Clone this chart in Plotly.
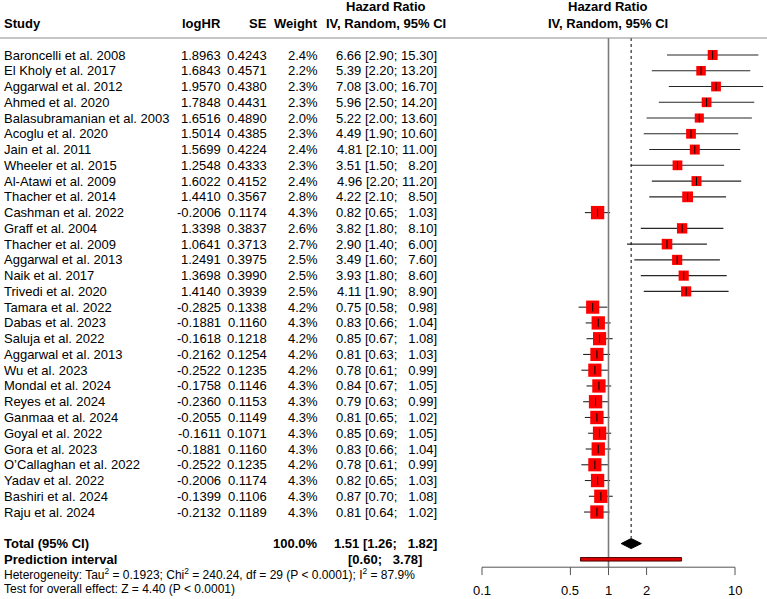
import math
import plotly.graph_objects as go

# ---------------- data ----------------
studies = ["Baroncelli et al. 2008", "El Kholy et al. 2017", "Aggarwal et al. 2012", "Ahmed et al. 2020",
           "Balasubramanian et al. 2003", "Acoglu et al. 2020", "Jain et al. 2011", "Wheeler et al. 2015",
           "Al-Atawi et al. 2009", "Thacher et al. 2014", "Cashman et al. 2022", "Graff et al. 2004",
           "Thacher et al. 2009", "Aggarwal et al. 2013", "Naik et al. 2017", "Trivedi et al. 2020",
           "Tamara et al. 2022", "Dabas et al. 2023", "Saluja et al. 2022", "Aggarwal et al. 2013",
           "Wu et al. 2023", "Mondal et al. 2024", "Reyes et al. 2024", "Ganmaa et al. 2024",
           "Goyal et al. 2022", "Gora et al. 2023", "O\u2019Callaghan et al. 2022", "Yadav et al. 2022",
           "Bashiri et al. 2024", "Raju et al. 2024"]
loghr = [1.8963, 1.6843, 1.9570, 1.7848, 1.6516, 1.5014, 1.5699, 1.2548, 1.6022, 1.4410,
         -0.2006, 1.3398, 1.0641, 1.2491, 1.3698, 1.4140, -0.2825, -0.1881, -0.1618, -0.2162,
         -0.2522, -0.1758, -0.2360, -0.2055, -0.1611, -0.1881, -0.2522, -0.2006, -0.1399, -0.2132]
se = [0.4243, 0.4571, 0.4380, 0.4431, 0.4890, 0.4385, 0.4224, 0.4333, 0.4152, 0.3567,
      0.1174, 0.3837, 0.3713, 0.3975, 0.3990, 0.3939, 0.1338, 0.1160, 0.1218, 0.1254,
      0.1235, 0.1146, 0.1153, 0.1149, 0.1071, 0.1160, 0.1235, 0.1174, 0.1106, 0.1189]
weight = [2.4, 2.2, 2.3, 2.3, 2.0, 2.3, 2.4, 2.3, 2.4, 2.8,
          4.3, 2.6, 2.7, 2.5, 2.5, 2.5, 4.2, 4.3, 4.2, 4.2,
          4.2, 4.3, 4.3, 4.3, 4.3, 4.3, 4.2, 4.3, 4.3, 4.3]
hr = [6.66, 5.39, 7.08, 5.96, 5.22, 4.49, 4.81, 3.51, 4.96, 4.22,
      0.82, 3.82, 2.90, 3.49, 3.93, 4.11, 0.75, 0.83, 0.85, 0.81,
      0.78, 0.84, 0.79, 0.81, 0.85, 0.83, 0.78, 0.82, 0.87, 0.81]
lower = [2.90, 2.20, 3.00, 2.50, 2.00, 1.90, 2.10, 1.50, 2.20, 2.10,
         0.65, 1.80, 1.40, 1.60, 1.80, 1.90, 0.58, 0.66, 0.67, 0.63,
         0.61, 0.67, 0.63, 0.65, 0.69, 0.66, 0.61, 0.65, 0.70, 0.64]
upper = [15.30, 13.20, 16.70, 14.20, 13.60, 10.60, 11.00, 8.20, 11.20, 8.50,
         1.03, 8.10, 6.00, 7.60, 8.60, 8.90, 0.98, 1.04, 1.08, 1.03,
         0.99, 1.05, 0.99, 1.02, 1.05, 1.04, 0.99, 1.03, 1.08, 1.02]

total_weight = "100.0%"
total_hr, total_lo, total_up = 1.51, 1.26, 1.82
pred_lo, pred_up = 0.60, 3.78
het_text = ("Heterogeneity: Tau<sup>2</sup> = 0.1923; Chi<sup>2</sup> = 240.24, df = 29 "
            "(P &lt; 0.0001); I<sup>2</sup> = 87.9%")
test_text = "Test for overall effect: Z = 4.40 (P &lt; 0.0001)"
tick_vals = [0.1, 0.5, 1, 2, 10]
tick_text = ["0.1", "0.5", "1", "2", "10"]

# ---------------- layout helpers ----------------
W, H = 767, 599
FONT = "Liberation Sans, Arial, Helvetica, sans-serif"
n = len(studies)
rows = list(range(n))
ROW_TOTAL, ROW_PRED, ROW_HET, ROW_TEST = n + 1, n + 2, n + 2.9, n + 3.9
ROW_TICKLAB = n + 4
AXIS_Y = n + 2.5


def px(x):
    return x / W


def fmt_ci(lo, up):
    u = f"{up:.2f}"
    if len(u) == 4:
        u = "\u2007" + u
    return f"[{lo:.2f}; {u}]"


fig = go.Figure()

# CI whiskers
cx, cy = [], []
for i in rows:
    cx += [lower[i], upper[i], None]
    cy += [i, i, None]
fig.add_trace(go.Scatter(x=cx, y=cy, mode="lines", line=dict(color="#262626", width=1.1),
                         hoverinfo="skip", showlegend=False))

# reference line at 1
fig.add_trace(go.Scatter(x=[1, 1], y=[-1.08, AXIS_Y], mode="lines",
                         line=dict(color="#7a7a7a", width=1.6), hoverinfo="skip", showlegend=False))
# dotted line at pooled estimate
fig.add_trace(go.Scatter(x=[total_hr, total_hr], y=[-1.08, ROW_TOTAL - 0.36], mode="lines",
                         line=dict(color="black", width=1, dash="dot"), hoverinfo="skip", showlegend=False))

# squares (area proportional to weight)
fig.add_trace(go.Scatter(x=hr, y=rows, mode="markers",
                         marker=dict(symbol="square", color="#ff0000", opacity=1,
                                     size=[6.43 * math.sqrt(w) for w in weight],
                                     line=dict(width=0)),
                         hoverinfo="skip", showlegend=False))
# point ticks
fig.add_trace(go.Scatter(x=hr, y=rows, mode="markers",
                         marker=dict(symbol="line-ns", size=6, opacity=1, line=dict(width=1, color="black")),
                         hoverinfo="skip", showlegend=False))

# diamond
fig.add_trace(go.Scatter(x=[total_lo, total_hr, total_up, total_hr, total_lo],
                         y=[ROW_TOTAL, ROW_TOTAL - 0.32, ROW_TOTAL, ROW_TOTAL + 0.32, ROW_TOTAL],
                         mode="lines", fill="toself", fillcolor="black",
                         line=dict(color="black", width=1), hoverinfo="skip", showlegend=False))
# prediction interval
fig.add_trace(go.Scatter(x=[pred_lo, pred_up, pred_up, pred_lo, pred_lo],
                         y=[ROW_PRED - 0.11, ROW_PRED - 0.11, ROW_PRED + 0.11, ROW_PRED + 0.11, ROW_PRED - 0.11],
                         mode="lines", fill="toself", fillcolor="#e00000",
                         line=dict(color="#4a0000", width=1), hoverinfo="skip", showlegend=False))

# x axis drawn by hand
fig.add_trace(go.Scatter(x=[tick_vals[0], tick_vals[-1]], y=[AXIS_Y, AXIS_Y], mode="lines",
                         line=dict(color="#555555", width=1), hoverinfo="skip", showlegend=False))
tx, ty = [], []
for v in tick_vals:
    tx += [v, v, None]
    ty += [AXIS_Y, AXIS_Y + 0.5, None]
fig.add_trace(go.Scatter(x=tx, y=ty, mode="lines", line=dict(color="#555555", width=1),
                         hoverinfo="skip", showlegend=False))

# ---------------- table text ----------------
ann = []


def add(text, x, y, anchor, size=13, bold=False):
    t = f"<b>{text}</b>" if bold else text
    ann.append(dict(text=t, x=px(x), y=y, xref="paper", yref="y", xanchor=anchor, yanchor="middle",
                    showarrow=False, font=dict(family=FONT, size=size, color="black")))


# tick labels (log axis annotations take log10 positions)
for v, t in zip(tick_vals, tick_text):
    ann.append(dict(text=t, x=math.log10(v), y=ROW_TICKLAB, xref="x", yref="y", xanchor="center",
                    yanchor="middle", showarrow=False, font=dict(family=FONT, size=13, color="black")))

COL_STUDY, COL_LOG, COL_SE, COL_W, COL_HR = 2, 223, 269, 320, 439
COL_PRED = 424
HDR_CENTER, PLOT_CENTER = 386, 608

add("Study", COL_STUDY, -2, "left", bold=True)
add("logHR", COL_LOG, -2, "right", bold=True)
add("SE", COL_SE, -2, "right", bold=True)
add("Weight", COL_W, -2, "right", bold=True)
add("Hazard Ratio", HDR_CENTER, -3.05, "center", bold=True)
add("IV, Random, 95% CI", HDR_CENTER, -2, "center", bold=True)
add("Hazard Ratio", PLOT_CENTER, -3.05, "center", bold=True)
add("IV, Random, 95% CI", PLOT_CENTER, -2, "center", bold=True)

for i in rows:
    add(studies[i], COL_STUDY, i, "left")
    add(f"{loghr[i]:.4f}", COL_LOG, i, "right")
    add(f"{se[i]:.4f}", COL_SE, i, "right")
    add(f"{weight[i]:.1f}%", COL_W, i, "right")
    add(f"{hr[i]:.2f} {fmt_ci(lower[i], upper[i])}", COL_HR, i, "right")

add("Total (95% CI)", COL_STUDY, ROW_TOTAL, "left", bold=True)
add(total_weight, COL_W, ROW_TOTAL, "right", bold=True)
add(f"{total_hr:.2f} {fmt_ci(total_lo, total_up)}", COL_HR, ROW_TOTAL, "right", bold=True)
add("Prediction interval", COL_STUDY, ROW_PRED, "left", bold=True)
add(fmt_ci(pred_lo, pred_up), COL_PRED, ROW_PRED, "right", bold=True)
add(het_text, COL_STUDY, ROW_HET, "left", size=12)
add(test_text, COL_STUDY, ROW_TEST, "left", size=12)

# header rule
shapes = [dict(type="line", xref="paper", yref="y", x0=0, x1=1, y0=-1.08, y1=-1.08,
               line=dict(color="#8c8c8c", width=1.2))]

# map: 0.1 -> 482 px, 10 -> 735 px
lo_log = -1 - 482 / 126.5
hi_log = -1 + (W - 482) / 126.5
fig.update_layout(
    width=W, height=H, margin=dict(l=0, r=0, t=0, b=0),
    paper_bgcolor="white", plot_bgcolor="white",
    xaxis=dict(type="log", range=[lo_log, hi_log], visible=False, domain=[0, 1], fixedrange=True),
    yaxis=dict(range=[(H - 55) / 15.76, -55 / 15.76], visible=False, domain=[0, 1], fixedrange=True),
    annotations=ann, shapes=shapes, showlegend=False,
)

fig.write_html("out.html")
